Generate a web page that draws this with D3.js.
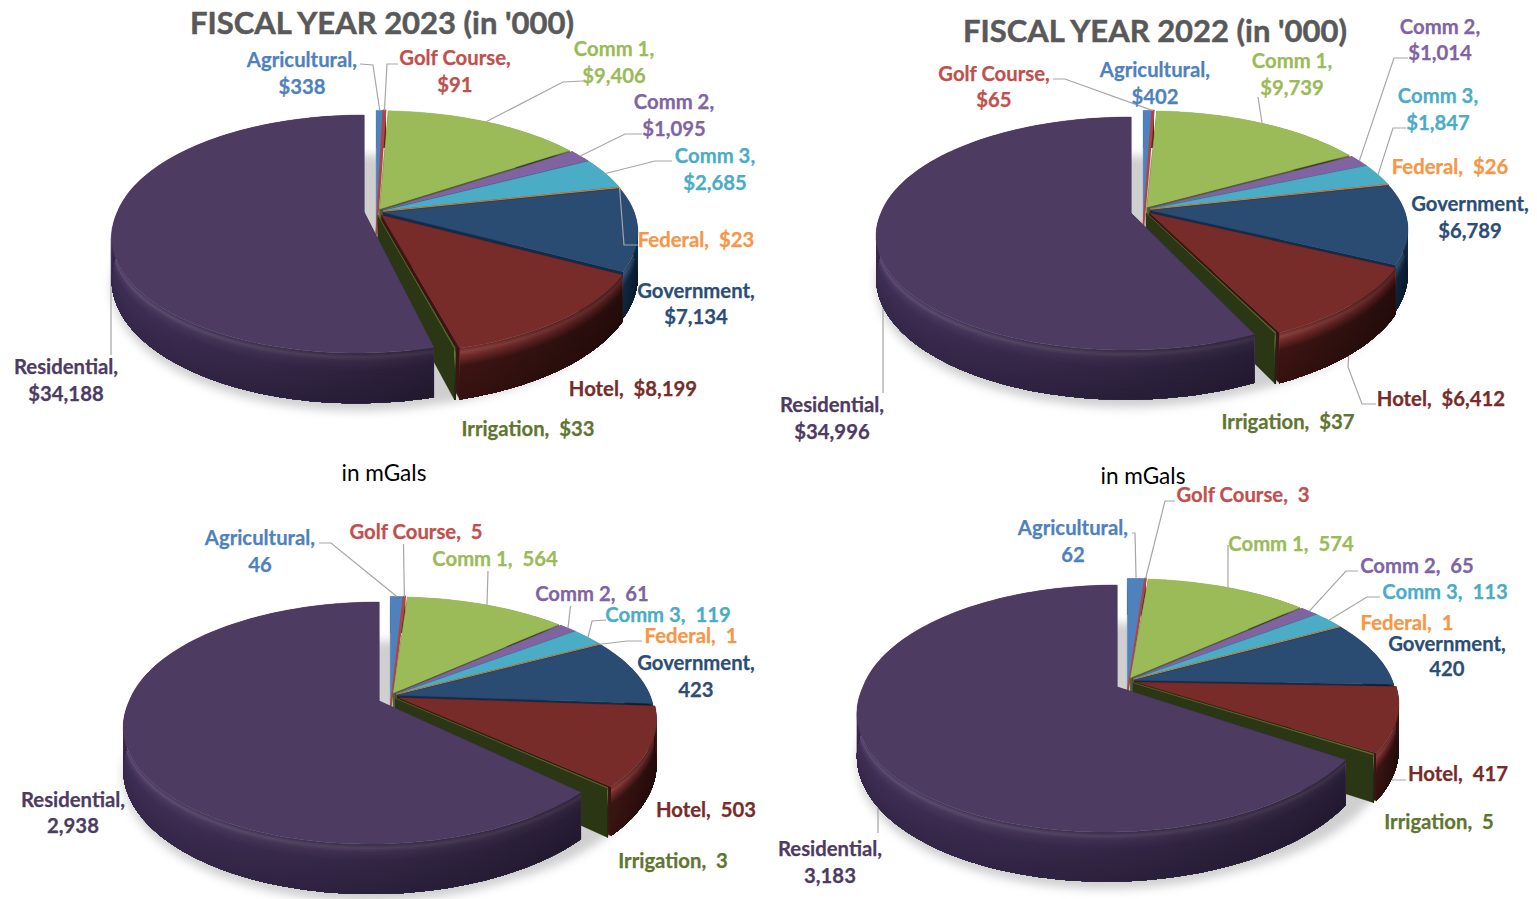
<!DOCTYPE html>
<html>
<head>
<meta charset="utf-8">
<style>
html,body{margin:0;padding:0;background:#fff;overflow:hidden}
svg{display:block}
text{font-family:Lato,"Open Sans",sans-serif;font-weight:700;white-space:pre}
</style>
<script src="https://cdn.jsdelivr.net/npm/d3@7"></script>
</head>
<body>
<svg id="chart" width="1537" height="899"></svg>
<script>
// ---------- data ----------
const categories = ["Agricultural","Golf Course","Comm 1","Comm 2","Comm 3","Federal","Government","Hotel","Irrigation","Residential"];
const fiscal2023 = [338,91,9406,1095,2685,23,7134,8199,33,34188];
const fiscal2022 = [402,65,9739,1014,1847,26,6789,6412,37,34996];
const mgals2023  = [46,5,564,61,119,1,423,503,3,2938];
const mgals2022  = [62,3,574,65,113,1,420,417,5,3183];
const titles = ["FISCAL YEAR 2023 (in '000)","FISCAL YEAR 2022 (in '000)","in mGals","in mGals"];

// ---------- styles ----------
const topColors  = ["#4f81bd","#b0443f","#9bbb59","#8064a2","#4bacc6","#f79646","#2a4b72","#772c2a","#5f7530","#4d3b62"];
const textColors = ["#4f81bd","#c0504d","#9bbb59","#8064a2","#4bacc6","#f79646","#2c4d75","#772c2a","#5f7530","#4d3b62"];
const wallColors = ["#2c4d75","#772c2a","#4f6228","#4d3b62","#29697a","#7f4a1e","#112c4c","#3c1513","#2a3614","#3f2f56"];
const pulls = [.03,.03,.03,.03,.03,.03,.03,.037,.03,0];

// ---------- layout ----------
const panels = [
 {values:fiscal2023,prefix:"$",main:{x:376,y:212,right:254,up:99,down:137,h:43},res:{x:364,y:212,left:251,up:97,down:141,h:41,skew:7},tipDrop:26,
  title:[382,22,31],
  labels:[[302,59,86],[455,57,84],[614,48,75],[674,101,128],[715,155,182],[696,239,null],[696,290,316],[633,388,null],[528,428,null],[66,366,393]],
  leaders:[[[360,64],[373,65]],[[398,64],[387,64]],[[583,81],[563,82]],[[642,134],[625,134]],[[672,161],[655,161]],[[638,245],[624,245]],null,null,null,[[111,355],[111,240]]]},
 {values:fiscal2022,prefix:"$",main:{x:1143,y:210,right:257,up:97,down:134,h:43},res:{x:1131,y:213,left:254,up:96,down:137,h:41,skew:5},tipDrop:20,
  title:[1155,30,31],
  labels:[[1155,69,96],[994,73,99],[1292,60,87],[1440,26,52],[1438,95,122],[1450,166,null],[1470,203,230],[1441,398,null],[1288,421,null],[832,404,431]],
  leaders:[null,[[1053,79],[1065,79]],[[1258,97]],[[1408,58],[1394,58]],[[1406,128],[1393,128]],null,null,[[1376,404],[1362,404],[1348,367]],null,[[883,393],[883,260]]]},
 {values:mgals2023,prefix:"",main:{x:390,y:696,right:257,up:97,down:139,h:43},res:{x:379,y:701,left:254,up:99,down:143,h:41,skew:9},tipDrop:16,
  title:[384,472,22.6],
  labels:[[260,537,564],[416,531,null],[495,558,null],[592,593,null],[668,614,null],[691,635,null],[696,662,689],[706,809,null],[673,860,null],[73,799,825]],
  leaders:[[[319,543],[331,543]],[[403.5,544]],[[488,571]],[[570.5,606]],[[606,620],[592,621]],[[642,641],[627,641]],null,null,null,null]},
 {values:mgals2022,prefix:"",main:{x:1127,y:681,right:262,up:100,down:142,h:43},res:{x:1117,y:687,left:258,up:102,down:145,h:41,skew:11},tipDrop:14,
  title:[1143,475,22.6],
  labels:[[1073,527,554],[1243,494,null],[1291,543,null],[1417,565,null],[1445,591,null],[1407,622,null],[1447,643,668],[1458,773,null],[1439,821,null],[830,848,875]],
  leaders:[[[1132,533],[1135,533]],[[1175,501],[1165,501]],[[1228,545]],[[1358,571],[1346,571]],[[1380,597],[1367,597]],null,null,[[1406,780],[1392,780]],null,[[878,833],[878,780]]]}
];
const labelSize = 20.3;
const wallBands = d3.range(0,1,1/30);
const leaderColor = "#a6a6a6";

// ---------- helpers ----------
const svg = d3.select("#chart");
const defs = svg.append("defs");
defs.append("filter").attr("id","soft").attr("x","-10%").attr("y","-10%").attr("width","120%").attr("height","130%")
  .append("feGaussianBlur").attr("stdDeviation",5);
const sideShade = defs.append("linearGradient").attr("id","sideShade");
sideShade.append("stop").attr("offset","0").attr("stop-color","#000").attr("stop-opacity",0);
sideShade.append("stop").attr("offset","1").attr("stop-color","#000").attr("stop-opacity",.38);

const line = d3.line();
const closed = pts => line(pts)+"Z";

// perspective mapping of a tilted disc on to the page
function projector(g){
  const p=(g.down-g.up)/(g.down+g.up), ry=g.up*(1+p), rx=(g.right||g.left)*Math.sqrt(1-p*p), skew=g.skew||0;
  return (X,Y,z=0)=>{
    const w=1+p*Y;
    return [g.x+rx*X/w+skew*Math.min(0,Y), g.y-ry*Y/w+g.h*z/w];
  };
}
const disc=(a,r=1)=>[r*Math.sin(a),r*Math.cos(a)];
const arcAngles=(a0,a1)=>{
  const n=Math.max(2,Math.ceil((a1-a0)/(Math.PI/120)));
  return d3.range(n+1).map(i=>a0+(a1-a0)*i/n);
};
const wallPath=(proj,pts,z0=0)=>closed(pts.map(d=>proj(d[0],d[1],z0)).concat(pts.slice().reverse().map(d=>proj(d[0],d[1],1))));

// each band reaches to the foot of the wall, and the next one paints over it, so no seams show
function drawRim(g,proj,discPts,top,wall){
  const shade=d3.scaleLinear().domain([0,.06,.14,.34,1])
    .range([top,d3.interpolateRgb(top,"#ffffff")(.11),top,wall,d3.interpolateRgb(wall,"#000000")(.14)]);
  g.selectAll(null).data(wallBands).join("path")
    .attr("d",z=>wallPath(proj,discPts,z))
    .attr("fill",z=>shade(z));
}

// ---------- panels ----------
panels.forEach((panel,pi)=>{
  const root=svg.append("g").attr("class","panel");
  const pieData=d3.pie().sort(null).startAngle(0).endAngle(2*Math.PI)(panel.values);
  const projMain=projector(panel.main), projRes=projector(panel.res);
  const lastIdx=categories.length-1;

  const bisector=d=>(d.startAngle+d.endAngle)/2;
  const sliceProj=(d,i)=>{
    if(i===lastIdx) return projRes;
    const off=disc(bisector(d),pulls[i]);
    return (X,Y,z=0)=>projMain(X+off[0],Y+off[1],z);
  };

  // floor shadow
  const shadowAngles=arcAngles(0,2*Math.PI);
  root.append("g").attr("filter","url(#soft)").selectAll("path")
    .data([projMain,projRes]).join("path")
    .attr("d",pr=>closed(shadowAngles.map(a=>{const q=disc(a);return pr(q[0],q[1],1.15);})))
    .attr("fill","#cfcfcf");

  const under=root.append("g"), pie=root.append("g"), over=root.append("g");

  // slices, in series order so later ones cover earlier walls
  pie.selectAll("g.slice").data(pieData).join("g").attr("class","slice").each(function(d,i){
    const g=d3.select(this), pr=sliceProj(d,i);
    const arc=arcAngles(d.startAngle,d.endAngle).map(a=>disc(a));
    const top=topColors[i], wall=wallColors[i];
    if(i>=2){
      [d.endAngle,d.startAngle].forEach(a=>{
        g.append("path").attr("d",wallPath(pr,[[0,0],disc(a)])).attr("fill",wall).attr("stroke",wall).attr("stroke-width",.5);
      });
    }
    drawRim(g.append("g"),pr,arc,top,wall);
    g.append("path").attr("d",wallPath(pr,arc)).attr("fill","url(#sideShade)");
    const tip=pr(0,0,0);
    if(i<2) tip[1]+=panel.tipDrop;
    g.append("path").attr("d",closed([tip].concat(arc.map(q=>pr(q[0],q[1],0)))))
      .attr("fill",top).attr("stroke",top).attr("stroke-width",i===1?1.8:.4);
  });

  // leader lines end on the rim of their own slice
  pieData.forEach((d,i)=>{
    const elbows=panel.leaders[i];
    if(!elbows) return;
    const q=disc(bisector(d));
    const pts=elbows.concat([sliceProj(d,i)(q[0],q[1],0)]);
    (i===7||i===lastIdx?under:over).append("path").attr("d",line(pts))
      .attr("fill","none").attr("stroke",leaderColor).attr("stroke-width",1.2);
  });

  // labels
  const fmt=d3.format(",");
  const labels=root.append("g").selectAll("g").data(pieData).join("g")
    .attr("fill",(d,i)=>textColors[i]).attr("stroke",(d,i)=>textColors[i]).attr("stroke-width",.25)
    .attr("font-size",labelSize).attr("text-anchor","middle");
  labels.each(function(d,i){
    const [cx,y1,y2]=panel.labels[i], g=d3.select(this), val=panel.prefix+fmt(d.value);
    if(y2===null){
      g.append("text").attr("x",cx).attr("y",y1).attr("dominant-baseline","central").text(categories[i]+",  "+val);
    }else{
      g.append("text").attr("x",cx).attr("y",y1).attr("dominant-baseline","central").text(categories[i]+",");
      g.append("text").attr("x",cx).attr("y",y2).attr("dominant-baseline","central").text(val);
    }
  });

  // heading
  root.append("text").attr("x",panel.title[0]).attr("y",panel.title[1]).attr("text-anchor","middle")
    .attr("dominant-baseline","central").attr("font-size",panel.title[2])
    .attr("fill",pi<2?"#595959":"#000")
    .attr("stroke",pi<2?"#595959":"none").attr("stroke-width",.5)
    .style("font-weight",pi<2?700:400).text(titles[pi]);
});
</script>
</body>
</html>
